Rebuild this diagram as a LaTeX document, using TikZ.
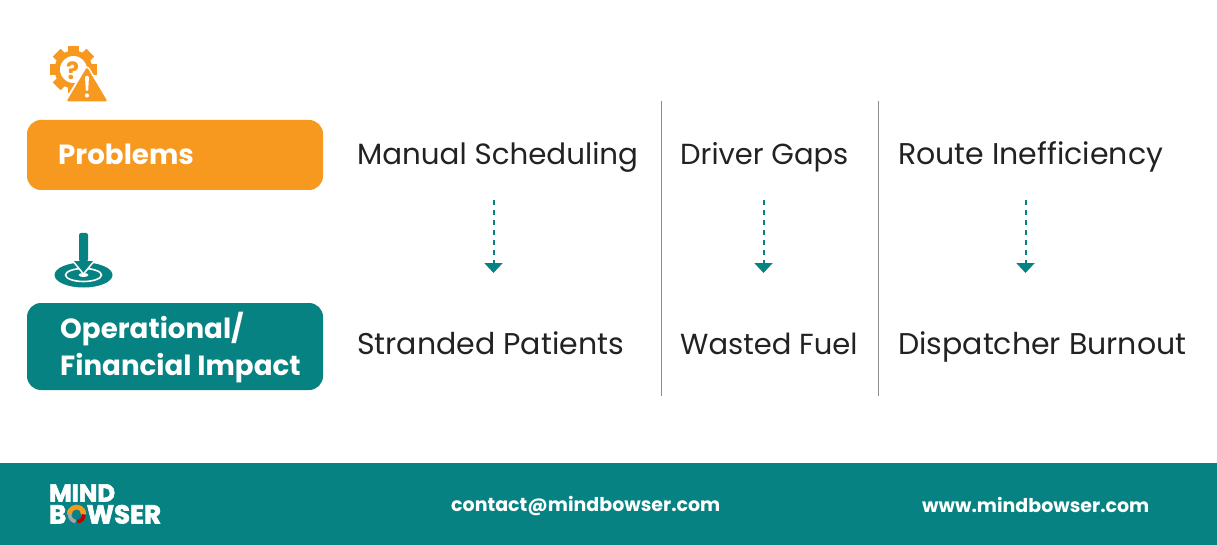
\documentclass[tikz,border=0pt]{standalone}
\usepackage{fontspec}
\setmainfont{Poppins}
\newfontfamily\logofont{Poppins}[BoldFeatures={FakeBold=2.5}]
\usetikzlibrary{arrows.meta}
\definecolor{teal1}{HTML}{078282}
\definecolor{orange1}{HTML}{F7981F}
\definecolor{ink}{HTML}{222222}
\tikzset{
  cell/.style={anchor=base west,inner sep=0pt,text=ink,font=\fontsize{#1}{34}\selectfont},
  cell/.default=29.3,
  head/.style={anchor=base west,inner sep=0pt,text=white,font=\fontsize{27.7}{37}\selectfont\bfseries,align=left},
  foot/.style={anchor=base west,inner sep=0pt,text=white,font=\fontsize{19}{24}\selectfont\bfseries},
  logo/.style={anchor=base west,inner sep=0pt,text=white,font=\logofont\fontsize{#1}{20}\selectfont\bfseries},
  flow/.style={teal1,line width=2pt,dash pattern=on 5pt off 5pt,-{Triangle[width=18pt,length=10pt]}},
  rule/.style={draw=black!45,line width=0.8pt}
}
\begin{document}
\begin{tikzpicture}[x=1pt,y=-1pt]
  \useasboundingbox (0,0) rectangle (1217,545);
  % footer band
  \fill[teal1] (0,463) rectangle (1217,545);
  % row headers
  \fill[orange1,rounded corners=14pt] (27,120) rectangle (323,190);
  \fill[teal1,rounded corners=14pt] (27,303) rectangle (323,390);
  \node[head] (problems) at (58,165) {Problems};
  \node[head] (impact1) at (60,338) {Operational/};
  \node[head] (impact2) at (60,375) {Financial Impact};
  % table text
  \node[cell] (sched) at (357,165) {Manual Scheduling};
  \node[cell=29] (gaps) at (680,165) {Driver Gaps};
  \node[cell=30] (route) at (898,165) {Route Inefficiency};
  \node[cell=30] (stranded) at (357,354) {Stranded Patients};
  \node[cell=29] (fuel) at (680,354) {Wasted Fuel};
  \node[cell=30] (burnout) at (898,354) {Dispatcher Burnout};
  % separators
  \coordinate (r1a) at (661.5,101);
  \coordinate (r1b) at (661.5,396);
  \coordinate (r2a) at (878.5,101);
  \coordinate (r2b) at (878.5,396);
  \draw[rule] (r1a) to (r1b);
  \draw[rule] (r2a) to (r2b);
  % arrows
  \coordinate (a1a) at (493.5,200);
  \coordinate (a1b) at (493.5,273);
  \coordinate (a2a) at (763.5,200);
  \coordinate (a2b) at (763.5,273);
  \coordinate (a3a) at (1025.5,200);
  \coordinate (a3b) at (1025.5,273);
  \draw[flow] (a1a) to (a1b);
  \draw[flow] (a2a) to (a2b);
  \draw[flow] (a3a) to (a3b);
  % gear icon
  \foreach \a in {0,45,...,315}
    \fill[orange1,rotate around={\a:(73.5,69.5)}] (68,45.8) rectangle (79,60);
  \fill[orange1] (73.5,69.5) circle (19);
  \fill[white] (73.5,69.5) circle (13.5);
  \node[inner sep=0pt,text=orange1,font=\fontsize{24}{24}\selectfont\bfseries] (qmark) at (72.5,71) {?};
  \draw[white,line width=5pt,line join=round] (87,69) -- (107,101) -- (67,101) -- cycle;
  \fill[orange1,rounded corners=1.5pt] (87,67) -- (107.5,101.5) -- (66.5,101.5) -- cycle;
  \fill[white,rounded corners=1pt] (85,76) -- (89,76) -- (88.2,91) -- (85.8,91) -- cycle;
  \fill[white] (87,95.5) circle (2.1);
  % target icon
  \fill[teal1] (83.5,275) ellipse (29 and 12.5);
  \draw[white,line width=1.6pt] (83.5,275) ellipse (18 and 6.5);
  \fill[white] (83.5,275) ellipse (5 and 2);
  \fill[teal1,draw=white,line width=1.5pt,line join=round] (72,260) -- (83.5,274) -- (95,260) -- cycle;
  \fill[teal1,rounded corners=2pt] (79,233) -- (79,261.5) -- (88,261.5) -- (88,233) -- cycle;
  % footer text
  \node[logo=24.5] (mind) at (49,501.5) {MIND};
  \node[logo=26] (bowser) at (49,523.5) {B\textcolor{orange1}{O}WSER};
  \coordinate (ring) at (76.8,514.5);
  \fill[teal1] (ring) ++(0:10.5) arc (0:180:10.5) -- cycle;
  \draw[line width=3.6pt,black!35] (ring) ++(185:7.2) arc (185:100:7.2);
  \draw[line width=3.6pt,red!75!black] (ring) ++(85:7.2) arc (85:0:7.2);
  \node[foot] (mail) at (451,511) {contact@mindbowser.com};
  \node[foot] (web) at (922,512) {www.mindbowser.com};
\end{tikzpicture}
\end{document}
